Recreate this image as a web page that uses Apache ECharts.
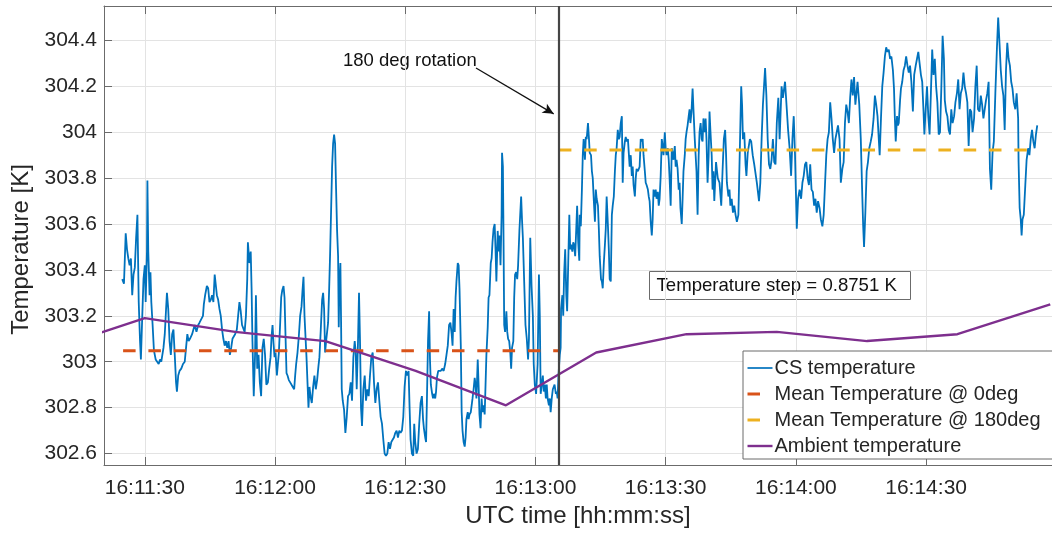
<!DOCTYPE html>
<html>
<head>
<meta charset="utf-8">
<script src="https://cdn.jsdelivr.net/npm/echarts@6/dist/echarts.min.js"></script>
<style>
html, body { margin: 0; padding: 0; background: #fff; }
#chart { width: 1052px; height: 533px; }
</style>
</head>
<body>
<div id="chart"></div>
<script>
"use strict";

// all times are seconds after 16:11:00 UTC
var xTicks = [30, 60, 90, 120, 150, 180, 210];
var yTicks = [302.6, 302.8, 303, 303.2, 303.4, 303.6, 303.8, 304, 304.2, 304.4];

// CS temperature [seconds, K]
var csTemperature = [
	[24.8,303.36],[25.2,303.34],[25.6,303.56],[25.9,303.49],[26.2,303.45],[26.5,303.42],[26.8,303.45],[27.1,303.29],[27.4,303.38],[27.7,303.41],
	[28.0,303.54],[28.3,303.64],[28.6,303.26],[28.9,303.09],[29.1,303.01],[29.4,303.19],[29.7,303.36],[30.0,303.42],[30.2,303.26],[30.5,303.48],
	[30.6,303.79],[30.8,303.48],[31.1,303.29],[31.3,303.39],[31.5,303.26],[31.8,303.16],[32.1,303.05],[32.5,303.01],[32.8,303.01],[33.2,302.99],
	[33.5,303.01],[33.8,303.00],[34.3,303.06],[34.6,303.12],[34.9,303.23],[35.1,303.30],[35.4,303.23],[35.7,303.09],[36.0,303.03],[36.3,303.12],
	[36.6,303.14],[36.9,303.03],[37.2,302.91],[37.4,302.87],[37.7,302.94],[38.0,302.96],[38.4,302.97],[38.8,302.99],[39.2,303.00],[39.5,303.06],
	[39.8,303.12],[40.1,303.09],[40.4,303.10],[40.9,303.12],[41.2,303.14],[41.5,303.16],[41.9,303.13],[42.3,303.16],[42.6,303.17],[43.0,303.17],
	[43.4,303.20],[43.6,303.25],[43.9,303.29],[44.3,303.33],[44.6,303.32],[44.9,303.26],[45.2,303.27],[45.5,303.29],[45.8,303.26],[46.1,303.38],
	[46.3,303.38],[46.6,303.29],[46.9,303.27],[47.2,303.23],[47.5,303.20],[47.8,303.14],[48.1,303.10],[48.4,303.07],[48.7,303.09],[49.0,303.06],
	[49.3,303.09],[49.6,303.03],[49.9,303.06],[50.2,303.10],[50.5,303.11],[50.8,303.12],[51.2,303.14],[51.5,303.20],[51.8,303.26],[52.1,303.22],
	[52.4,303.16],[52.7,303.16],[53.0,303.13],[53.3,303.20],[53.6,303.36],[53.75,303.52],[54.1,303.43],[54.4,303.48],[54.6,303.32],[54.8,303.09],
	[55.1,302.85],[55.4,303.03],[55.6,303.29],[55.9,302.97],[56.2,303.03],[56.5,302.91],[56.8,302.85],[57.1,303.06],[57.4,303.10],[57.7,303.03],
	[58.0,302.90],[58.35,302.91],[58.66,302.97],
	[58.97,303.02],[59.20,303.11],[59.43,303.16],[59.66,303.08],[59.89,303.02],[60.12,303.04],[60.43,302.94],[60.66,302.99],[60.89,303.04],[61.19,303.17],
	[61.42,303.28],[61.65,303.31],[61.96,303.33],[62.19,303.28],[62.42,303.11],[62.65,302.95],[62.88,302.94],[63.18,302.92],[63.49,302.91],[63.80,302.91],
	[64.10,302.89],[64.41,302.88],[64.64,302.94],[64.87,302.99],[65.18,303.04],[65.48,303.11],[65.79,303.20],[66.10,303.24],[66.33,303.31],[66.56,303.37],
	[66.79,303.20],[67.02,303.11],[67.25,303.02],[67.48,302.91],[67.71,302.80],[67.94,302.89],[68.17,302.85],[68.47,302.82],[68.78,302.89],[69.08,302.94],
	[69.39,302.88],[69.70,302.92],[70.00,302.98],[70.23,303.02],[70.54,303.14],[70.85,303.27],[71.08,303.30],[71.31,303.23],[71.54,303.04],[71.77,303.09],
	[72.00,303.09],[72.23,303.17],[72.46,303.31],[72.69,303.47],[72.92,303.66],[73.15,303.85],[73.38,303.95],[73.61,303.99],[73.84,303.95],[74.07,303.75],
	[74.30,303.57],[74.53,303.46],[74.68,303.15],[74.83,303.34],[75.06,303.43],[75.22,303.17],[75.37,302.88],[75.60,302.83],[75.91,302.79],[76.21,302.69],
	[76.52,302.76],[76.82,302.85],[77.13,302.86],[77.44,302.91],[77.74,302.83],[78.05,303.02],[78.36,303.09],[78.59,303.04],[78.82,302.88],[79.12,303.09],
	[79.35,303.30],[79.58,303.09],[79.81,302.80],[80.04,302.72],[80.35,302.88],[80.66,302.94],[80.96,302.83],[81.27,302.88],[81.58,302.85],[81.88,302.94],
	[82.19,303.02],[82.50,303.04],[82.80,302.91],[83.11,302.82],[83.41,302.88],[83.72,302.91],[84.03,302.83],[84.33,302.76],[84.64,302.73],[84.95,302.66],
	[85.25,302.60],[85.56,302.59],[85.87,302.60],[86.17,302.65],[86.48,302.62],[86.79,302.65],[87.09,302.66],[87.40,302.67],[87.71,302.69],[88.01,302.70],
	[88.32,302.67],[88.63,302.70],[88.93,302.69],[89.24,302.70],[89.55,302.76],[89.85,302.89],[90.16,302.96],[90.47,302.94],[90.77,302.96],[91.00,302.80],
	[91.23,302.66],[91.54,302.60],[91.84,302.59],[92.07,302.73],[92.30,302.65],[92.61,302.60],[92.92,302.62],[93.22,302.73],[93.53,302.82],[93.84,302.85],
	[94.1,302.75],[94.3,302.71],[94.6,302.67],[94.8,302.65],[95.0,302.84],[95.25,303.09],[95.5,303.22],[95.7,303.01],[95.9,302.90],[96.2,302.86],
	[96.4,302.84],[96.6,302.86],[96.9,302.84],[97.1,302.87],[97.3,302.93],[97.6,302.96],[97.9,302.96],[98.2,302.96],[98.5,302.97],[98.85,302.96],
	[99.2,302.99],[99.5,303.03],[99.8,303.07],[100.1,303.16],[100.4,303.17],[100.7,303.12],[100.9,303.07],[101.15,303.23],[101.4,303.13],[101.6,303.28],
	[101.8,303.35],[102.1,303.43],[102.3,303.42],[102.5,303.32],[102.8,303.07],[103.0,302.78],[103.2,302.70],[103.45,302.65],[103.7,302.63],[103.9,302.67],
	[104.1,302.75],[104.4,302.78],[104.6,302.75],[104.8,302.77],[105.1,302.78],[105.3,302.81],[105.5,302.84],[105.75,302.88],[106.0,302.93],[106.2,302.90],
	[106.4,302.84],[106.7,303.01],[106.9,302.90],[107.1,302.77],[107.35,302.71],[107.6,302.84],[107.8,302.78],[108.05,302.81],[108.3,302.77],[108.5,302.90],
	[108.7,303.03],[109.0,303.15],[109.2,303.28],[109.4,303.29],[109.7,303.43],[109.9,303.45],[110.1,303.52],[110.35,303.58],[110.6,303.60],[110.8,303.49],
	[111.0,303.35],[111.3,303.57],[111.5,303.48],[111.7,303.55],[111.95,303.42],[112.2,303.64],[112.3,303.91],[112.5,303.85],[112.6,303.64],[112.8,303.16],
	[113.0,303.13],[113.3,303.22],[113.5,303.13],[113.7,303.10],[113.95,303.09],[114.2,303.04],[114.4,302.97],[114.6,303.06],[114.9,303.09],[115.1,303.28],
	[115.3,303.38],[115.55,303.39],[115.8,303.36],[116.0,303.42],[116.3,303.57],[116.7,303.72],[116.9,303.62],[117.1,303.54],[117.4,303.35],[117.7,303.16],
	[118.0,303.10],[118.3,303.01],[118.5,303.10],[118.8,303.54],[119.1,303.33],[119.4,303.20],[119.6,302.99],[119.85,302.90],[120.15,302.86],[120.5,302.99],
	[120.8,303.38],[121.0,303.20],[121.2,302.86],[121.45,302.90],[121.7,302.94],[121.9,302.87],[122.15,302.90],[122.4,302.84],[122.6,302.90],[122.8,302.84],
	[123.1,302.81],[123.3,302.84],[123.5,302.78],[123.75,302.84],[124.0,302.88],[124.2,302.88],[124.4,302.90],[124.7,302.86],[124.9,302.87],[125.1,302.84],
	[125.3,302.94],
	[125.6,303.03],[125.8,303.06],[125.9,303.23],[126.2,303.29],[126.4,303.20],[126.6,303.38],[126.85,303.49],[127.1,303.29],[127.3,303.22],[127.55,303.43],
	[127.8,303.64],[128.0,303.49],[128.2,303.51],[128.5,303.48],[128.7,303.52],[128.9,303.51],[129.15,303.46],[129.4,303.58],[129.6,303.68],[129.85,303.52],
	[130.1,303.44],[130.2,303.64],[130.45,303.59],[130.7,303.75],[130.9,303.90],[131.1,303.97],[131.4,303.88],[131.6,303.98],[131.8,303.97],[132.1,304.04],
	[132.3,303.98],[132.5,303.91],[132.8,303.90],[133.0,303.83],[133.2,303.80],[133.45,303.70],[133.7,303.61],[133.9,303.75],[134.1,303.71],[134.4,303.68],
	[134.6,303.58],[134.8,303.46],[135.1,303.36],[135.3,303.35],[135.5,303.32],[135.75,303.43],[136.0,303.51],[136.2,303.58],[136.4,303.72],[136.7,303.59],
	[136.9,303.49],[137.1,303.36],[137.35,303.35],[137.6,303.64],[137.8,303.68],[138.05,303.72],[138.3,303.83],[138.5,303.90],[138.7,303.93],[138.96,304.01],
	[139.2,303.97],[139.4,303.98],[139.65,304.04],[139.9,304.07],[140.1,303.78],[140.3,303.91],[140.6,303.96],[140.8,303.98],[141.0,303.96],[141.3,303.97],
	[141.5,303.91],[141.7,303.85],[141.95,303.90],[142.2,303.81],[142.4,303.85],[142.6,303.77],[142.9,303.72],[143.1,303.80],[143.3,303.84],[143.6,303.83],
	[143.8,303.84],[144.0,303.85],[144.25,303.97],[144.5,303.96],[144.7,303.97],[144.9,303.90],[145.2,303.83],[145.4,303.78],[145.6,303.77],[145.9,303.75],
	[146.1,303.72],[146.3,303.70],[146.55,303.61],[146.8,303.55],[147.0,303.62],[147.2,303.75],[147.5,303.72],[147.7,303.75],[147.9,303.71],[148.2,303.74],
	[148.4,303.68],[148.6,303.71],[148.85,303.81],[149.1,303.97],[149.3,303.94],[149.5,303.90],[149.8,304.00],[150.0,303.93],[150.2,303.90],[150.5,303.93],
	[150.7,303.88],[150.9,303.80],[151.15,303.68],[151.4,303.93],[151.6,303.91],[151.8,303.88],[152.1,303.94],[152.3,303.85],[152.5,303.88],[152.75,303.84],
	[153.0,303.75],[153.2,303.78],[153.4,303.67],[153.7,303.60],[153.9,303.71],[154.1,303.83],[154.4,303.90],[154.6,303.97],[154.8,304.00],[155.05,304.03],
	[155.3,304.07],[155.5,304.10],[155.7,304.04],[155.95,304.09],[156.2,304.19],[156.4,304.10],[156.7,303.97],[156.9,303.90],[157.1,303.83],[157.35,303.64],
	[157.6,303.90],[157.8,304.00],[158.05,304.04],[158.3,303.97],[158.5,303.96],[158.7,304.06],[159.0,304.00],[159.2,304.06],[159.4,303.97],[159.65,303.78],
	[159.9,303.90],[160.1,304.09],[160.3,304.01],[160.6,303.90],[160.8,303.75],[161.0,303.83],
	[161.2,303.70],[161.6,303.87],[162.0,303.80],[162.4,303.78],[162.8,303.68],[163.1,303.83],[163.4,303.97],[163.7,304.01],[163.9,303.91],[164.1,303.78],
	[164.45,303.72],[164.7,303.75],[164.9,303.68],[165.2,303.71],[165.5,303.65],[165.8,303.68],[166.1,303.64],[166.4,303.61],[166.75,303.64],[167.1,303.94],
	[167.4,304.20],[167.6,304.12],[167.8,303.97],[168.1,304.00],[168.4,303.86],[168.6,303.81],[168.9,303.91],[169.4,303.97],[169.7,303.96],[170.05,303.90],
	[170.4,303.86],[171.0,303.78],[171.5,303.70],[171.8,303.78],[172.1,303.97],[172.4,304.12],[172.9,304.28],[173.2,304.16],[173.5,303.97],[173.8,303.86],
	[174.1,303.84],[174.4,303.88],[174.7,303.97],[175.0,303.87],[175.3,303.86],[175.6,304.04],[175.95,304.15],[176.25,303.97],[176.7,304.20],[177.0,304.15],
	[177.5,304.22],[177.9,304.10],[178.2,304.01],[178.55,303.93],[178.9,303.81],[179.2,303.97],[179.5,304.07],[179.8,303.90],[180.0,303.74],[180.2,303.58],
	[180.5,303.71],[180.85,303.75],[181.2,303.71],[181.5,303.78],[181.8,303.81],[182.1,303.86],[182.4,303.87],[182.7,303.80],[183.0,303.77],[183.3,303.86],
	[183.6,303.75],[183.9,303.74],[184.2,303.68],[184.5,303.71],[184.8,303.65],[185.1,303.70],[185.45,303.67],[185.75,303.62],[186.1,303.59],[186.4,303.64],
	[186.7,303.77],[187.0,303.90],[187.3,303.97],[187.6,304.00],[187.9,304.13],[188.2,304.06],[188.5,303.97],[188.8,303.91],[189.1,303.97],[189.4,304.00],
	[189.7,304.03],[190.05,303.97],[190.35,303.78],[190.7,303.84],[191.0,303.87],[191.3,304.04],[191.6,304.12],[191.9,304.09],[192.2,304.04],[192.5,304.15],
	[192.8,304.23],[193.1,304.16],[193.4,304.24],[193.7,304.12],[194.2,304.22],[194.6,304.12],[194.95,303.97],[195.3,303.72],[195.5,303.59],[195.7,303.50],
	[196.0,303.65],[196.3,303.83],[196.6,303.87],[196.9,303.93],[197.25,303.96],[197.55,303.99],[197.9,304.06],[198.2,304.16],[198.5,304.12],[198.8,304.07],
	[199.3,303.90],[199.6,304.06],[199.9,304.20],[200.2,304.26],[200.5,304.33],[200.8,304.37],[201.1,304.35],[201.4,304.36],[201.7,304.32],[202.0,304.33],
	[202.35,304.27],[202.6,304.19],[202.8,304.06],[203.0,303.96],[203.3,304.07],[203.5,304.03],[203.7,304.04],[204.0,304.14],[204.2,304.19],[204.5,304.22],
	[204.8,304.27],[205.1,304.29],[205.4,304.33],[205.7,304.29],[206.0,304.26],[206.3,304.29],[206.6,304.22],[206.95,304.09],[207.25,304.25],[207.6,304.29],
	[207.9,304.32],[208.2,304.35],[208.5,304.30],[208.8,304.25],[209.1,304.22],[209.4,304.09],[209.6,303.99],[209.9,304.10],[210.2,304.20],[210.5,304.07],
	[210.8,303.99],[211.1,304.17],[211.4,304.36],[211.7,304.25],[212.0,304.32],[212.3,304.20],[212.6,304.13],[212.9,303.99],[213.2,304.00],[213.5,304.19],
	[213.8,304.42],[214.1,304.32],[214.3,304.14],[214.6,304.09],[214.9,304.07],[215.2,304.01],[215.5,303.99],[215.8,304.10],[216.1,304.04],[216.45,304.07],
	[216.75,304.13],[217.1,304.17],[217.4,304.23],[217.7,304.10],[218.0,304.17],[218.3,304.19],[218.6,304.26],[218.9,304.20],[219.2,304.17],[219.5,304.13],
	[219.8,303.94],[220.1,304.10],[220.4,304.09],[220.7,304.00],[221.05,304.06],[221.35,304.20],[221.65,304.29],[221.95,304.10],[222.3,304.09],[222.6,304.16],
	[222.9,304.12],[223.2,304.06],[223.5,304.10],[223.8,304.14],[224.1,304.17],[224.4,304.22],[224.7,303.84],[225.0,303.75],[225.3,303.91],[225.6,303.96],
	[225.95,304.17],[226.3,304.36],[226.6,304.50],[226.9,304.39],[227.2,304.27],[227.5,304.20],[227.8,304.16],[228.1,304.01],[228.4,304.27],[228.7,304.39],
	[229.0,304.32],[229.3,304.29],[229.6,304.22],[229.9,304.19],[230.2,304.13],[230.55,304.10],[230.85,304.17],[231.2,304.06],[231.3,303.87],[231.55,303.67],
	[231.8,303.62],[232.0,303.55],[232.2,303.62],[232.5,303.64],[232.85,303.77],[233.15,303.88],[233.5,303.93],[233.8,303.90],[234.1,303.97],[234.4,304.01],
	[234.7,303.96],[235.0,303.93],[235.3,303.99],[235.6,304.03]
];

// ambient temperature samples
var ambientTime = [9.2, 30.0, 50.8, 71.6, 92.4, 113.2, 134.0, 154.8, 175.6, 196.4, 217.2, 238.6];
var ambientTemp = [303.06, 303.19, 303.13, 303.09, 302.96, 302.81, 303.04, 303.12, 303.13, 303.09, 303.12, 303.25];

// mean values before / after the rotation
var meanTemp0 = 303.048;
var meanTemp180 = 303.923;
var mean0Span = [25.0, 125.4];
var mean180Span = [125.4, 234.1];
var rotationTime = 125.4;
var arrowFrom = [106.3, 304.28];
var arrowTo = [124.2, 304.08];

var FONT = '"Liberation Sans", Arial, Helvetica, sans-serif';
var INK = '#262626';
var AXIS = '#6b6b6b';
var GRID = '#e3e3e3';
var DASH = [12.5, 12.8];

function pad(n) {
	return (n < 10 ? '0' : '') + n;
}
function clock(s) {
	var tot = 16 * 3600 + 11 * 60 + Math.round(s);
	return pad(Math.floor(tot / 3600)) + ':' + pad(Math.floor(tot / 60) % 60) + ':' + pad(tot % 60);
}

var ambientData = ambientTime.map(function (t, i) { return [t, ambientTemp[i]]; });

var myChart = echarts.init(document.getElementById('chart'), null, { renderer: 'canvas' });

var option = {
	animation: false,
	backgroundColor: '#fff',
	textStyle: { fontFamily: FONT },
	grid: { left: 104, top: 6, width: 950, height: 460, show: false },
	xAxis: [{
		type: 'value',
		position: 'bottom',
		min: 20.6,
		max: 239.0,
		name: 'UTC time [hh:mm:ss]',
		nameLocation: 'middle',
		nameGap: 39,
		nameTextStyle: { fontSize: 24, color: INK, fontFamily: FONT },
		axisLine: { show: true, lineStyle: { color: AXIS, width: 1 } },
		axisTick: { show: true, inside: true, length: 8, customValues: xTicks, lineStyle: { color: AXIS } },
		axisLabel: { show: true, customValues: xTicks, margin: 13, fontSize: 21, color: INK, fontFamily: FONT, formatter: clock },
		splitLine: { show: true, lineStyle: { color: GRID, width: 1 } }
	}, {
		type: 'value',
		position: 'top',
		min: 20.6,
		max: 239.0,
		axisLine: { show: true, lineStyle: { color: AXIS, width: 1 } },
		axisTick: { show: true, inside: true, length: 8, customValues: xTicks, lineStyle: { color: AXIS } },
		axisLabel: { show: false },
		splitLine: { show: false }
	}],
	yAxis: {
		type: 'value',
		min: 302.55,
		max: 304.55,
		name: 'Temperature [K]',
		nameLocation: 'middle',
		nameGap: 65,
		nameTextStyle: { fontSize: 24, color: INK, fontFamily: FONT, padding: [0, 28, 0, 0] },
		axisLine: { show: true, lineStyle: { color: AXIS, width: 1 } },
		axisTick: { show: true, inside: true, length: 8, customValues: yTicks, lineStyle: { color: AXIS } },
		axisLabel: {
			show: true, customValues: yTicks, margin: 7, fontSize: 21, color: INK, fontFamily: FONT,
			formatter: function (v) { return String(Math.round(v * 10) / 10); }
		},
		splitLine: { show: true, lineStyle: { color: GRID, width: 1 } }
	},
	legend: {
		orient: 'vertical',
		left: 743,
		top: 351,
		padding: [7, 12, 3, 3],
		itemGap: 6,
		itemWidth: 25,
		itemHeight: 14,
		selectedMode: false,
		backgroundColor: '#fff',
		borderColor: AXIS,
		borderWidth: 1,
		itemStyle: { opacity: 0 },
		textStyle: { fontSize: 20, color: INK, fontFamily: FONT, padding: [0, 0, 0, -3] },
		data: [
			{ name: 'CS temperature', lineStyle: { width: 1.7 } },
			{ name: 'Mean Temperature @ 0deg', lineStyle: { width: 3, type: DASH } },
			{ name: 'Mean Temperature @ 180deg', lineStyle: { width: 3, type: DASH } },
			{ name: 'Ambient temperature', lineStyle: { width: 2.4 } }
		]
	},
	series: [{
		name: 'CS temperature',
		type: 'line',
		data: csTemperature,
		showSymbol: false,
		symbol: 'none',
		color: '#0072BD',
		lineStyle: { color: '#0072BD', width: 1.8 },
		markLine: {
			silent: true,
			symbol: 'none',
			label: { show: false },
			data: [
				{ xAxis: rotationTime, lineStyle: { color: '#454545', width: 2.2, type: 'solid' } },
				[
					{ coord: arrowFrom, symbol: 'none', lineStyle: { color: '#111', width: 1.3, type: 'solid' } },
					{ coord: arrowTo, symbol: 'arrow', symbolSize: [8, 11] }
				]
			]
		}
	}, {
		name: 'Mean Temperature @ 0deg',
		type: 'line',
		data: [[mean0Span[0], meanTemp0], [mean0Span[1], meanTemp0]],
		showSymbol: false,
		symbol: 'none',
		color: '#D95319',
		lineStyle: { color: '#D95319', width: 3, type: DASH }
	}, {
		name: 'Mean Temperature @ 180deg',
		type: 'line',
		data: [[mean180Span[0], meanTemp180], [mean180Span[1], meanTemp180]],
		showSymbol: false,
		symbol: 'none',
		color: '#EDB120',
		lineStyle: { color: '#EDB120', width: 3, type: DASH }
	}, {
		name: 'Ambient temperature',
		type: 'line',
		data: ambientData,
		showSymbol: false,
		symbol: 'none',
		color: '#7E2F8E',
		lineStyle: { color: '#7E2F8E', width: 2.4 }
	}],
	graphic: [{
		type: 'text',
		left: 343,
		top: 51,
		style: { text: '180 deg rotation', fontSize: 18.5, fontFamily: FONT, fill: '#111' }
	}, {
		type: 'group',
		left: 649,
		top: 271,
		children: [{
			type: 'rect',
			shape: { x: 0, y: 0, width: 261, height: 28 },
			style: { fill: '#fff', stroke: AXIS, lineWidth: 1 }
		}, {
			type: 'text',
			x: 7,
			y: 14,
			style: { text: 'Temperature step = 0.8751 K', fontSize: 18.6, fontFamily: FONT, fill: '#111', verticalAlign: 'middle' }
		}]
	}]
};

myChart.setOption(option);
</script>
</body>
</html>
